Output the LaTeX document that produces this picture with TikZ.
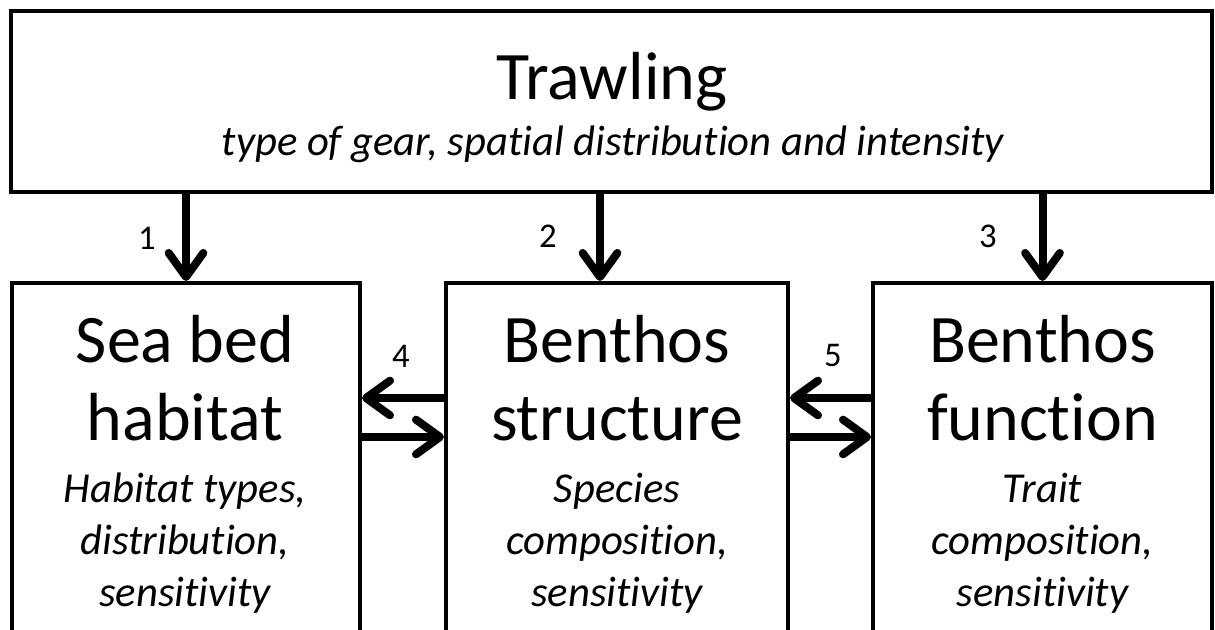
\documentclass[tikz,border=0pt]{standalone}
\usepackage{fontspec}
\setmainfont{Carlito}[Ligatures=NoCommon]
\usepackage{tikz}
\usetikzlibrary{arrows.meta,positioning}
\tikzstyle{box} = [draw, line width=3pt, rectangle, inner sep=0pt]
\tikzstyle{head} = [font=\fontsize{51}{58.5}\selectfont, align=center, inner sep=0pt]
\tikzstyle{sub} = [font=\fontsize{32}{39}\selectfont\itshape, align=center, inner sep=0pt]
\tikzstyle{num} = [font=\fontsize{26}{30}\selectfont, inner sep=0pt]
\tikzstyle{flow} = [line width=6pt, -{Straight Barb[length=18pt,width=26pt,line cap=round,round]}]

\begin{document}
\begin{tikzpicture}[x=0.75pt, y=-0.75pt]
\useasboundingbox (0,0) rectangle (1215,630);
\clip (0,0) rectangle (1215,630);

% Trawling box
\node[box, minimum width=900.75pt, minimum height=135.75pt] (trawl) at (611.5,101.5) {};
\node[head, anchor=base] (trawltxt) at (612,100) {Trawling};
\node[sub, anchor=base] (trawlsub) at (613,156) {type of gear, spatial distribution and intensity};

% Lower boxes (run off the bottom)
\node[box, minimum width=261pt, minimum height=327.75pt] (sea) at (186,501.5) {};
\node[box, minimum width=256.5pt, minimum height=327.75pt] (struct) at (617,501.5) {};
\node[box, minimum width=254.25pt, minimum height=327.75pt] (func) at (1042.5,501.5) {};

% base = last line
\node[head, anchor=base] (seatxt) at (185,441) {Sea bed\\habitat};
\node[sub, anchor=base] (seasub) at (185,607) {Habitat types,\\distribution,\\sensitivity};
\node[head, anchor=base] (structtxt) at (617,441) {Benthos\\structure};
\node[sub, anchor=base] (structsub) at (617,607) {Species\\composition,\\sensitivity};
\node[head, anchor=base] (functxt) at (1042.5,441) {Benthos\\function};
\node[sub, anchor=base] (funcsub) at (1042.5,607) {Trait\\composition,\\sensitivity};

% Trawling effects
\draw[flow] (trawl.south -| sea.north) -- (sea.north);
\draw[flow] ([xshift=-12.75pt]trawl.south -| struct.north) -- ([xshift=-12.75pt]struct.north);
\draw[flow] (trawl.south -| func.north) -- (func.north);

% Feedbacks between boxes
\coordinate (upper) at (0,398);
\coordinate (lower) at (0,437);
\draw[flow] (struct.west |- upper) -- (sea.east |- upper);
\draw[flow] (sea.east |- lower) -- (struct.west |- lower);
\draw[flow] (func.west |- upper) -- (struct.east |- upper);
\draw[flow] (struct.east |- lower) -- (func.west |- lower);

% Numbers
\node[num] (lab1) at (147,238) {1};
\node[num] (lab2) at (548,236) {2};
\node[num] (lab3) at (988,236) {3};
\node[num] (lab4) at (401,356) {4};
\node[num] (lab5) at (833,356) {5};
\end{tikzpicture}
\end{document}
